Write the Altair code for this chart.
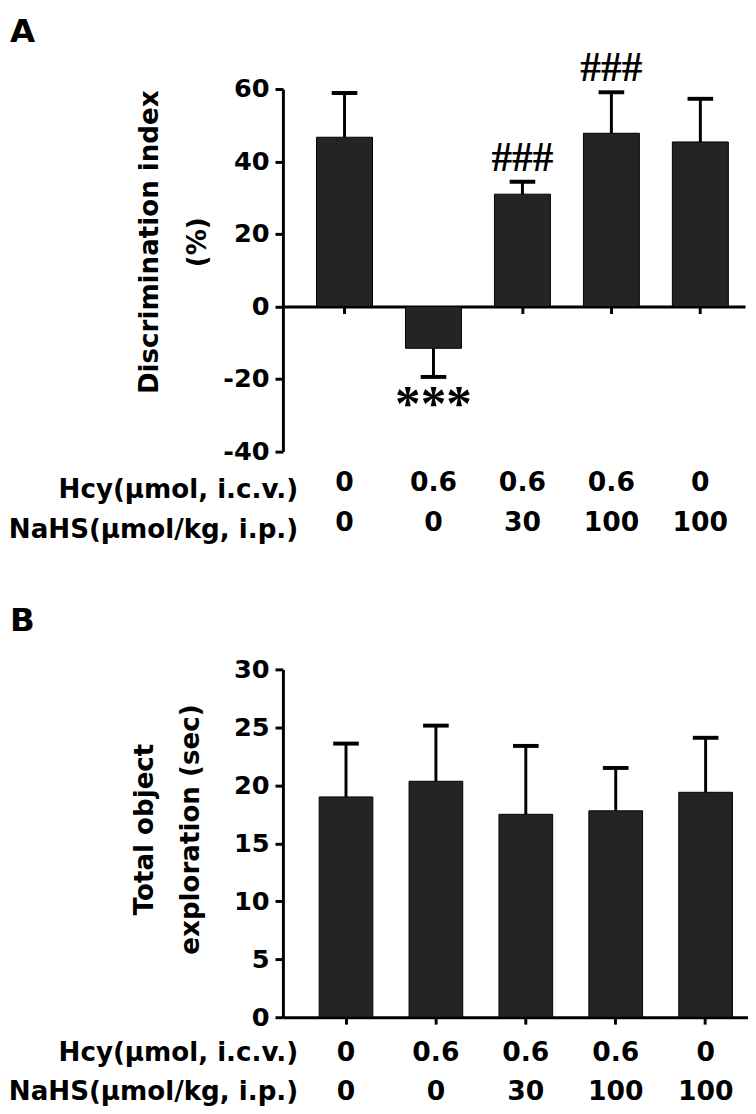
import altair as alt
import pandas as pd

# ---- data ----
hcy = ["0", "0.6", "0.6", "0.6", "0"]
nahs = ["0", "0", "30", "100", "100"]

a_mean = [46.7, -11.5, 31.0, 47.8, 45.4]
a_sem = [12.2, 7.9, 3.4, 11.3, 11.9]
a_marks = ["", "***", "###", "###", ""]
a_ticks = [-40, -20, 0, 20, 40, 60]
a_domain = [-40, 60]

b_mean = [19.0, 20.35, 17.5, 17.8, 19.4]
b_sem = [4.6, 4.8, 5.9, 3.7, 4.7]
b_marks = ["", "", "", "", ""]
b_ticks = [0, 5, 10, 15, 20, 25, 30]
b_domain = [0, 30]

row_titles = ["Hcy(µmol, i.c.v.)", "NaHS(µmol/kg, i.p.)"]
a_ytitle = ["Discrimination index", "(%)"]
b_ytitle = ["Total object", "exploration (sec)"]
letters = ["A", "B"]

keys = [h + "\n" + n for h, n in zip(hcy, nahs)]

FONT = "DejaVu Sans"
SERIF = "Liberation Serif"


def frame(mean, sem, marks):
    df = pd.DataFrame({"grp": keys, "mean": mean, "sem": sem, "mark": marks})
    df["end"] = [m + s if m >= 0 else m - s for m, s in zip(mean, sem)]
    return df


def panel(df, ticks, dom, ytitle, letter, w, h, pin, pout, palign,
          xoffset, label_pad, xtitle_y, ytitle_x, ytitle_y, ytitle_lh,
          letter_y):
    xaxis = alt.Axis(
        title=row_titles, labelExpr="split(datum.label, '\\n')",
        labelAngle=0, offset=xoffset, domainWidth=3, domainColor="black",
        tickWidth=3, tickSize=7, tickColor="black",
        labelFont=FONT, labelFontSize=27, labelFontWeight="bold",
        labelColor="black", labelLineHeight=40, labelPadding=label_pad,
        labelBaseline="alphabetic", labelOverlap=False,
        titleFont=FONT, titleFontSize=26.5, titleFontWeight="bold",
        titleColor="black", titleAlign="right", titleX=15, titleY=xtitle_y,
        titleBaseline="alphabetic", titleLineHeight=40, titleAngle=0,
    )
    x = alt.X("grp:N", sort=keys, axis=xaxis,
              scale=alt.Scale(paddingInner=pin, paddingOuter=pout, align=palign))
    yscale = alt.Scale(domain=dom, nice=False, zero=False)
    yaxis = alt.Axis(
        title=ytitle, values=ticks, grid=False, domainWidth=3,
        domainColor="black", tickWidth=3, tickSize=8, tickColor="black",
        labelExpr="'' + datum.value",
        labelFont=FONT, labelFontSize=26, labelFontWeight="bold",
        labelColor="black", labelPadding=6,
        titleFont=FONT, titleFontSize=26.5, titleFontWeight="bold",
        titleColor="black", titleX=ytitle_x, titleY=ytitle_y,
        titleAlign="center", titleBaseline="alphabetic",
        titleLineHeight=ytitle_lh, titleAngle=270,
    )
    base = alt.Chart(df)
    bars = base.mark_bar(color="#242424", stroke="black", strokeWidth=1).encode(
        x=x, y=alt.Y("mean:Q", scale=yscale, axis=yaxis))
    stems = base.mark_rule(color="black", strokeWidth=3).encode(
        x=x, y=alt.Y("mean:Q", scale=yscale, axis=yaxis), y2="end:Q")
    caps = base.mark_tick(color="black", thickness=4, size=26, opacity=1).encode(
        x=x, y=alt.Y("end:Q", scale=yscale, axis=yaxis))
    up = base.transform_filter("datum.mark != '' && datum.mean >= 0").mark_text(
        font=SERIF, fontSize=42, fontWeight="bold", baseline="bottom",
        dy=-2, color="black").encode(
        x=x, y=alt.Y("end:Q", scale=yscale, axis=yaxis), text="mark:N")
    down = base.transform_filter("datum.mark != '' && datum.mean < 0").mark_text(
        font=SERIF, fontSize=52, fontWeight="bold", baseline="top",
        dy=3, color="black").encode(
        x=x, y=alt.Y("end:Q", scale=yscale, axis=yaxis), text="mark:N")
    tag = alt.Chart(pd.DataFrame({"t": [letter]})).mark_text(
        font=FONT, fontSize=33, fontWeight="bold", align="left",
        baseline="top", color="black").encode(
        text="t:N", x=alt.value(-277), y=alt.value(letter_y))
    return alt.layer(bars, stems, caps, up, down, tag).properties(width=w, height=h)


dfa = frame(a_mean, a_sem, a_marks)
dfb = frame(b_mean, b_sem, b_marks)

ha = 368
off_a = -ha * (0 - a_domain[0]) / (a_domain[1] - a_domain[0])

pa = panel(dfa, a_ticks, a_domain, a_ytitle, letters[0], 469, ha, 0.371, 0.283,
           0.668, off_a, 180, 194, -127, 155, 48, -74)
pb = panel(dfb, b_ticks, b_domain, b_ytitle, letters[1], 472, 353, 0.403, 0.288,
           0.70, 0, 37, 44, -132, 162, 46, -65)

chart = alt.vconcat(pa, pb, spacing=63).properties(
    padding={"left": 0, "top": 0, "right": 0, "bottom": 0}
).configure_view(stroke=None)

chart.save("out.html", embed_options={"renderer": "svg", "actions": False})
